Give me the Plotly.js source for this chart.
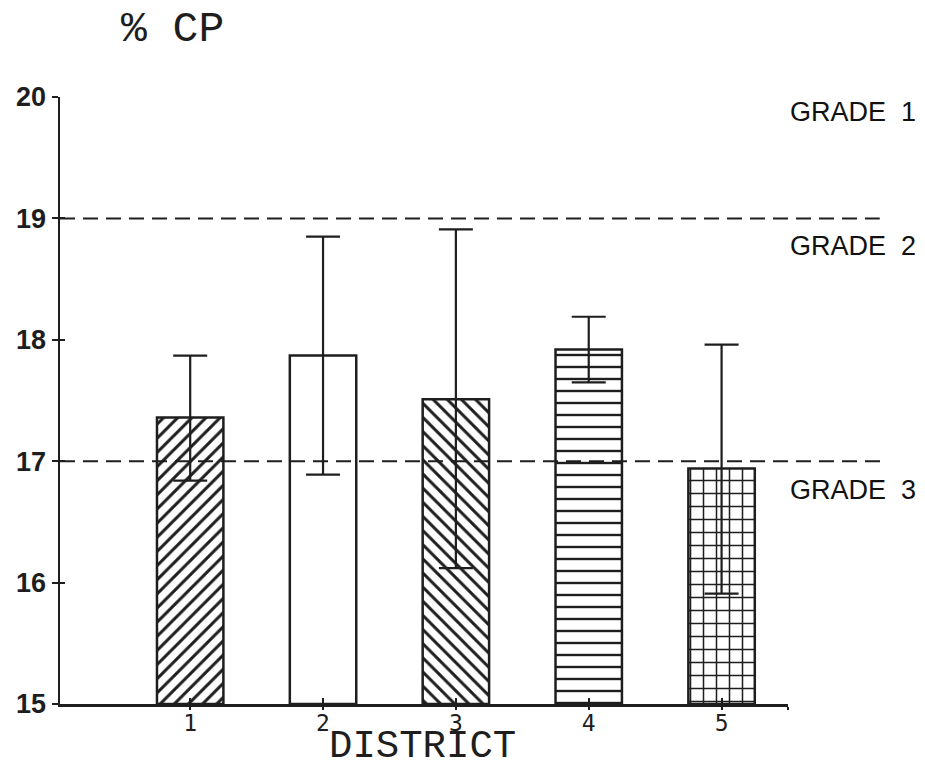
<!DOCTYPE html>
<html>
<head>
<meta charset="utf-8">
<script src="https://cdn.plot.ly/plotly-3.0.1.min.js"></script>
<style>html,body{margin:0;padding:0;background:#fff;}#chart{width:925px;height:771px;}</style>
</head>
<body>
<div id="chart"></div>
<script>
// ---- data ----
const districts = [1, 2, 3, 4, 5];
const districtLabels = ['1', '2', '3', '4', '5'];
const meanCP = [17.36, 17.87, 17.51, 17.92, 16.94];
const errPlus = [0.51, 0.98, 1.40, 0.27, 1.02];
const errMinus = [0.52, 0.98, 1.39, 0.27, 1.03];
const barPatterns = ['/', '', '\\', '-', '+'];
const gradeLines = [19, 17];
const gradeLabels = ['GRADE 1', 'GRADE 2', 'GRADE 3'];
const yTicks = [15, 16, 17, 18, 19, 20];

const ink = '#1e1e1e';
const mono = 'Liberation Mono, DejaVu Sans Mono, monospace';

const bars = {
  type: 'bar',
  x: districts,
  y: meanCP.map(v => v - 15),
  base: 15,
  width: 0.5,
  marker: {
    color: 'white',
    line: {color: ink, width: 2.5},
    pattern: {shape: barPatterns, fgcolor: ink, bgcolor: 'white',
              size: [10, 10, 10, 12, 13], solidity: [0.3, 0.3, 0.3, 0.2, 0.22], fillmode: 'replace'}
  },
  error_y: {
    type: 'data', symmetric: false, array: errPlus, arrayminus: errMinus,
    color: ink, thickness: 2.2, width: 17
  },
  hoverinfo: 'skip',
  showlegend: false
};

// invisible trace on overlay axes so the inner half of the tick marks shows
const dummy = {type: 'scatter', x: [1], y: [15], xaxis: 'x2', yaxis: 'y2', mode: 'markers', marker: {opacity: 0}, showlegend: false, hoverinfo: 'skip'};

const xR = [0.02, 5.5];
const yR = [15, 20];
const xTickVals = districts.concat([5.5]);
const xTickText = districtLabels.concat(['']);

const shapes = gradeLines.map((g, i) => ({
  type: 'line', xref: 'paper', yref: 'y',
  x0: 0, x1: i === 0 ? 1.126 : 1.132, y0: g, y1: g,
  line: {color: ink, width: 2, dash: '15px,8px'}
}));

const gradeY = [19.88, 18.77, 16.76];
const annotations = gradeLabels.map((t, i) => ({
  text: t.replace(' ', '\u00a0\u00a0'), xref: 'paper', yref: 'y', x: 1.1786, y: gradeY[i],
  xanchor: 'right', yanchor: 'middle', showarrow: false,
  font: {family: 'Liberation Sans, Arial, sans-serif', size: 27, color: '#111'}
}));
annotations.push({
  text: 'DISTRICT', xref: 'paper', yref: 'paper', x: (422 - 60) / 728, y: -(771 - 704) / 607,
  xanchor: 'center', yanchor: 'bottom', showarrow: false,
  font: {family: mono, size: 39, color: ink}
});

const layout = {
  width: 925, height: 771,
  margin: {l: 60, r: 137, t: 97, b: 67},
  paper_bgcolor: 'white', plot_bgcolor: 'white',
  bargap: 0,
  title: {
    text: '% CP', xref: 'container', yref: 'container',
    x: 121 / 925, xanchor: 'left', y: 1 - 26 / 771, yanchor: 'middle',
    font: {family: mono, size: 43, color: ink}
  },
  xaxis: {
    range: xR, showgrid: false, zeroline: false,
    showline: true, linecolor: ink, linewidth: 2.5,
    tickmode: 'array', tickvals: xTickVals, ticktext: xTickText,
    ticks: 'outside', ticklen: 3, tickwidth: 2, tickcolor: ink,
    ticklabelstandoff: -6,
    tickfont: {family: 'DejaVu Sans Mono, monospace', size: 23, color: ink}
  },
  yaxis: {
    range: yR, showgrid: false, zeroline: false,
    showline: true, linecolor: ink, linewidth: 2.5,
    tickmode: 'array', tickvals: yTicks,
    ticks: 'outside', ticklen: 6, tickwidth: 2, tickcolor: ink,
    tickfont: {family: 'Liberation Sans, Arial, sans-serif', size: 27, color: ink, weight: 'bold'}
  },
  xaxis2: {
    overlaying: 'x', range: xR, showgrid: false, zeroline: false, showline: false,
    tickmode: 'array', tickvals: xTickVals, showticklabels: false,
    ticks: 'inside', ticklen: 6, tickwidth: 2, tickcolor: ink, side: 'bottom'
  },
  yaxis2: {
    overlaying: 'y', range: yR, showgrid: false, zeroline: false, showline: false,
    tickmode: 'array', tickvals: yTicks, showticklabels: false,
    ticks: 'inside', ticklen: 5, tickwidth: 2, tickcolor: ink, side: 'left'
  },
  shapes: shapes,
  annotations: annotations
};

Plotly.newPlot('chart', [bars, dummy], layout, {staticPlot: true, displayModeBar: false});
</script>
</body>
</html>
